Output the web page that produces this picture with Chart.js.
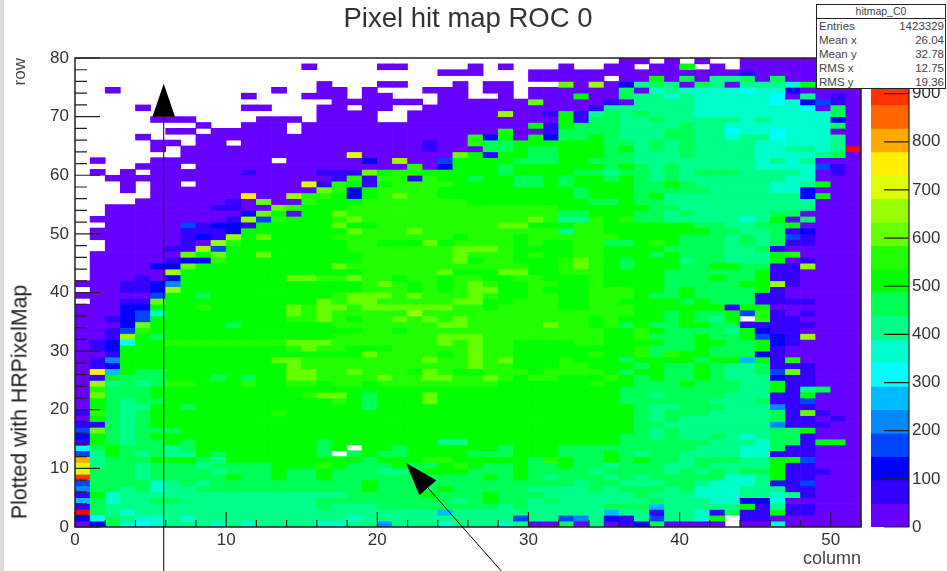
<!DOCTYPE html>
<html><head><meta charset="utf-8">
<style>
html,body{margin:0;padding:0;background:#fff;width:947px;height:571px;overflow:hidden;font-family:"Liberation Sans",Arial,sans-serif}
#strip{position:absolute;left:0;top:0;width:4px;height:571px;background:#dcdcdc}
#main{position:absolute;left:0;top:0}
#bar{position:absolute;left:860px;top:0}
#stats{position:absolute;left:816px;top:4px;width:130px;height:85px;background:#fff;border:1px solid #222;box-sizing:border-box;color:#444;font-size:11.5px;line-height:14px}
#stats .h{height:13px;line-height:13px;text-align:center;border-bottom:1px solid #222;font-size:10.5px}
#stats .r{display:flex;justify-content:space-between;padding:0 1px 0 2px}
#note{position:absolute;left:20px;top:402px;transform:translate(-50%,-50%) rotate(-90deg);white-space:nowrap;font-size:21.3px;color:#222}
</style>
<script src="https://cdn.jsdelivr.net/npm/chart.js@4"></script>
</head><body>
<div id="strip"></div>
<canvas id="main" width="947" height="571"></canvas>
<canvas id="bar" width="87" height="571"></canvas>
<div id="note">Plotted with HRPixelMap</div>
<div id="stats"><div class="h">hitmap_C0</div>
<div class="r"><span>Entries</span><span>1423329</span></div>
<div class="r"><span>Mean x</span><span>26.04</span></div>
<div class="r"><span>Mean y</span><span>32.78</span></div>
<div class="r"><span>RMS x</span><span>12.75</span></div>
<div class="r"><span>RMS y</span><span>19.36</span></div></div>
<script>
const row79=[0,0,0,0,0,0,0,0,0,0,0,0,0,0,0,0,0,0,0,0,0,0,0,0,0,0,0,0,0,0,0,0,0,0,0,0,24,24,0,24,0,24,0,0,24,24,24,24,24,24,24,24];
const row78=[0,0,0,0,0,0,0,0,0,0,0,0,0,0,0,24,0,0,0,0,24,24,0,0,0,0,24,0,24,0,0,0,24,0,0,24,24,0,24,24,511,0,24,0,24,24,24,24,24,24,24,24];
const row77=[0,0,0,0,0,0,0,0,0,0,0,0,0,0,0,0,0,0,0,0,0,0,0,0,24,24,24,0,0,0,24,24,24,24,24,24,24,24,24,24,24,24,24,24,73,24,24,24,24,24,24,24];
const row76=[0,0,0,0,0,0,0,0,0,0,0,0,0,0,0,0,0,0,0,0,0,0,0,0,0,0,0,0,0,0,24,24,24,24,24,0,24,24,511,24,463,24,414,414,463,24,463,24,24,24,24,24];
const row75=[0,0,0,0,0,0,0,0,0,0,0,0,0,0,0,0,24,0,0,0,24,24,0,0,0,24,0,24,24,0,0,0,609,24,657,24,122,414,463,414,24,463,414,24,414,414,414,365,511,24,24,24];
const row74=[0,0,24,0,0,0,0,0,0,0,0,0,0,24,0,0,24,24,0,24,0,0,0,24,24,24,0,24,24,0,24,24,24,24,24,24,463,24,365,414,365,365,365,365,316,365,365,122,24,24,24,24];
const row73=[0,0,0,0,0,0,0,0,0,0,0,24,0,0,0,24,24,24,0,24,24,0,0,0,24,24,0,0,24,0,24,24,24,511,24,24,463,414,414,365,414,365,365,365,365,365,316,24,414,24,73,24];
const row72=[0,0,0,0,0,0,0,0,0,0,0,0,0,0,0,0,0,24,24,24,24,24,24,0,24,24,24,24,24,24,609,24,24,24,24,73,24,414,414,414,414,365,365,365,365,365,316,365,122,170,73,24];
const row71=[0,0,0,0,24,0,0,0,0,0,0,24,24,0,0,0,24,24,0,24,24,0,0,24,24,24,24,24,24,24,24,24,24,24,73,414,414,414,414,414,414,365,365,365,365,365,365,365,316,24,463,24];
const row70=[0,0,0,0,0,0,0,0,0,0,0,0,0,0,0,0,24,24,24,24,0,0,24,24,24,24,24,24,657,24,24,73,511,73,414,463,414,463,414,414,414,365,365,365,365,365,365,365,365,365,463,24];
const row69=[0,0,0,0,0,24,24,24,0,0,0,0,24,24,24,0,24,24,24,24,0,0,24,24,24,24,24,24,24,24,24,24,511,73,463,463,414,414,463,414,414,414,414,414,365,414,365,365,365,365,122,24];
const row68=[0,0,0,0,0,0,0,0,24,0,0,24,24,24,0,24,24,24,24,24,24,24,24,24,24,24,24,24,24,24,511,73,511,463,463,463,414,414,414,414,463,414,414,365,365,365,365,365,365,365,463,24];
const row67=[0,0,0,0,0,0,24,24,0,24,24,24,24,24,0,24,24,24,24,24,24,24,24,24,24,24,24,24,560,24,24,73,463,463,463,463,414,414,414,463,463,414,414,316,365,365,316,365,365,365,24,24];
const row66=[0,0,0,0,24,0,0,0,24,24,24,24,24,24,24,24,24,24,24,24,24,24,24,24,24,24,560,122,511,24,511,122,463,463,511,463,414,414,414,463,463,414,414,365,414,414,316,365,365,365,414,24];
const row65=[0,0,0,0,0,24,24,0,24,24,0,24,24,24,24,24,24,24,24,24,24,24,24,73,24,24,560,463,463,511,511,511,511,511,511,463,463,414,463,414,463,414,414,414,414,365,365,365,365,365,414,24];
const row64=[0,0,0,0,0,24,0,24,24,24,24,24,24,24,24,24,24,24,24,24,24,24,24,73,24,24,24,463,463,511,463,463,511,511,511,463,511,414,463,414,463,414,414,414,414,365,365,414,414,365,414,950];
const row63=[0,0,0,0,0,0,0,24,24,24,24,24,24,24,24,24,24,24,706,24,24,24,24,24,24,609,511,73,511,511,463,463,511,511,511,463,463,414,414,414,463,414,414,414,414,365,365,365,365,414,463,24];
const row62=[0,24,0,0,0,24,24,24,24,24,24,24,24,0,24,24,24,24,24,122,24,657,24,24,170,511,511,511,511,463,463,463,511,511,463,463,463,414,414,414,414,414,414,414,414,365,414,365,414,24,24,24];
const row61=[0,0,0,0,24,24,24,0,24,24,24,24,24,24,24,24,24,24,24,24,24,24,560,24,122,511,511,511,463,511,511,511,511,511,511,463,511,463,414,463,414,414,414,414,414,365,365,365,365,170,73,24];
const row60=[0,24,0,24,0,24,24,24,24,24,24,73,24,24,24,24,73,73,73,609,511,560,560,511,511,511,511,511,463,511,511,511,511,463,463,414,463,463,414,463,414,463,463,463,414,414,414,414,365,24,73,24];
const row59=[0,0,24,24,24,24,24,24,24,24,24,24,24,24,24,24,24,73,560,73,560,560,73,560,511,511,463,511,511,463,463,511,463,511,511,463,511,463,414,463,414,414,414,414,414,414,414,365,365,24,24,24];
const row58=[0,0,0,24,0,24,24,0,24,24,24,24,24,24,24,706,73,560,511,73,511,560,560,560,560,511,511,511,511,463,463,511,463,511,511,511,511,463,463,511,463,414,414,414,414,414,365,365,414,511,24,24];
const row57=[0,0,0,24,0,24,24,24,24,24,24,24,24,24,24,24,609,560,122,511,560,560,560,560,511,511,511,511,511,511,511,511,511,463,511,511,511,463,463,463,463,463,414,414,414,414,365,365,122,24,24,24];
const row56=[0,0,0,0,0,24,24,24,24,24,24,755,24,24,657,560,560,511,122,511,560,609,560,560,511,511,511,511,511,511,511,511,511,463,511,511,511,463,511,414,414,414,414,414,414,414,414,414,122,511,24,24];
const row55=[0,0,0,0,24,24,24,24,24,24,73,24,609,24,24,560,511,511,511,560,560,560,560,560,560,560,511,511,511,511,511,511,511,511,463,463,511,463,463,414,414,414,414,414,414,414,414,414,414,24,24,24];
const row54=[0,0,24,24,24,24,24,24,24,73,73,24,24,609,560,511,511,511,560,560,560,560,560,560,560,560,560,560,560,560,560,560,511,511,511,511,511,511,463,463,414,414,414,414,414,414,414,414,414,24,24,24];
const row53=[0,0,24,24,24,24,24,24,24,24,24,122,609,511,24,511,511,609,560,560,560,560,560,560,560,560,560,560,560,560,560,560,463,463,511,511,511,463,463,414,463,414,414,414,414,414,463,463,24,24,24,24];
const row52=[0,24,24,24,24,24,24,24,24,24,73,657,170,560,511,511,511,560,609,560,560,560,560,560,560,560,560,560,560,560,609,560,414,414,560,511,560,463,463,414,414,414,414,414,365,414,511,24,463,24,24,24];
const row51=[0,0,24,24,24,24,24,170,73,122,122,73,511,511,511,511,511,609,511,511,560,560,560,560,560,560,560,560,609,609,511,511,511,560,560,511,511,511,511,511,511,463,463,414,414,463,463,511,24,24,24,24];
const row50=[0,24,24,24,24,24,24,73,73,73,122,511,511,511,511,511,511,511,609,560,560,560,609,560,560,560,560,560,560,560,560,560,414,560,560,511,511,511,511,511,511,511,463,463,414,414,463,73,122,24,24,24];
const row49=[0,24,24,24,24,24,24,73,122,73,657,511,609,511,511,511,511,560,560,560,560,560,560,560,560,511,560,560,560,511,560,560,560,560,560,560,511,511,511,511,463,463,463,414,463,414,463,170,73,24,24,24];
const row48=[0,0,24,24,24,24,24,73,24,657,560,511,511,511,511,511,511,511,560,560,511,511,511,609,511,560,560,560,560,511,560,511,511,560,560,463,463,511,560,511,463,463,463,414,463,414,463,73,73,24,24,24];
const row47=[0,0,24,24,24,24,73,73,657,170,511,511,511,511,511,511,511,511,560,560,560,560,560,560,560,609,609,609,560,511,511,511,511,560,560,511,511,511,511,463,463,463,463,414,414,463,73,24,24,24,24,24];
const row46=[0,24,24,24,24,24,24,609,511,609,511,511,609,511,511,511,511,511,511,560,560,560,560,560,560,609,560,560,560,511,560,511,511,560,560,511,511,511,463,511,463,463,463,414,414,414,511,560,24,24,24,24];
const row45=[0,24,24,24,24,24,73,122,122,560,511,511,511,511,511,511,511,511,511,560,560,560,560,560,560,609,511,560,560,511,511,511,560,609,560,511,463,511,511,511,414,463,463,414,414,414,511,24,73,24,24,24];
const row44=[0,24,24,24,24,122,122,609,511,511,511,511,511,511,511,511,511,609,560,560,560,560,560,560,560,560,560,560,560,560,511,511,560,609,560,511,463,511,511,511,463,463,511,511,463,463,73,73,657,24,24,24];
const row43=[0,24,24,24,24,24,657,511,511,511,511,511,511,511,511,511,511,511,511,560,560,560,560,560,609,511,511,511,609,609,511,511,560,560,560,511,511,511,511,463,463,463,463,463,463,511,73,73,24,24,24,24];
const row42=[0,24,24,24,73,24,122,511,511,511,511,511,511,511,609,609,560,560,609,560,560,511,560,560,511,560,560,511,511,560,560,511,511,511,560,511,511,511,511,463,463,463,511,463,463,511,73,73,24,24,24,24];
const row41=[24,24,24,73,73,122,219,511,511,511,511,511,511,511,511,511,511,511,511,560,609,560,511,560,511,560,609,560,511,511,560,560,511,511,560,511,511,511,511,463,463,463,463,463,511,511,657,73,24,24,24,24];
const row40=[0,24,24,73,73,122,657,511,511,511,511,511,511,511,511,511,511,511,511,560,560,560,511,560,511,560,609,609,511,511,560,511,511,511,560,560,560,511,511,463,511,463,463,463,463,511,73,24,24,24,24,24];
const row39=[24,24,24,24,24,170,511,511,463,511,511,511,511,511,511,511,511,560,609,609,609,560,609,560,560,560,609,560,511,511,560,560,511,511,560,560,560,511,463,463,511,463,463,463,463,73,73,24,24,24,24,24];
const row38=[0,24,24,73,73,609,511,511,511,511,511,511,511,511,511,511,609,560,609,609,560,560,560,560,560,609,609,511,511,560,560,560,511,511,560,560,511,511,511,511,463,511,463,463,463,73,73,73,73,24,24,24];
const row37=[24,24,24,122,122,511,511,511,560,511,511,511,511,511,609,560,609,609,560,609,609,609,609,609,609,560,560,511,560,560,560,560,511,511,560,560,560,511,511,511,511,511,511,73,511,511,24,24,24,24,24,24];
const row36=[24,24,24,122,170,365,511,511,511,511,511,511,511,511,609,560,609,560,560,560,560,560,657,560,560,560,560,560,560,560,560,560,560,560,560,560,560,511,511,463,511,463,463,511,170,560,73,24,73,24,24,24];
const row35=[24,24,73,122,170,511,511,511,511,511,511,511,511,511,560,560,609,560,511,560,560,609,560,609,560,609,560,560,560,560,560,560,560,560,511,560,511,511,511,463,511,463,414,511,0,560,73,73,24,24,24,24];
const row34=[24,24,24,122,609,511,511,511,511,511,463,511,511,511,511,511,511,560,560,560,560,560,560,560,609,609,560,560,560,560,560,609,560,560,511,560,463,511,463,463,511,511,463,463,73,73,73,73,73,24,24,24];
const row33=[24,24,73,170,560,511,511,511,511,511,511,511,511,511,511,511,511,511,511,560,560,511,560,560,560,560,560,560,560,560,560,560,560,560,560,511,511,560,511,463,463,463,463,414,511,122,73,73,24,24,24,24];
const row32=[24,24,73,657,511,463,511,511,511,511,511,511,511,511,511,511,511,560,560,560,560,560,560,560,609,609,609,560,560,560,560,560,560,560,560,511,511,560,463,463,463,511,463,463,511,170,122,73,657,24,24,24];
const row31=[24,73,122,316,511,511,560,560,560,560,560,560,560,560,609,609,609,560,560,560,560,560,560,560,609,560,609,560,560,511,511,511,511,560,560,511,511,511,511,463,463,511,511,463,463,511,122,73,24,24,24,24];
const row30=[24,73,122,511,511,511,511,511,511,511,511,511,511,511,560,609,560,560,511,511,511,560,560,560,560,560,609,560,560,511,511,511,511,511,511,511,511,560,463,463,463,511,463,463,463,511,73,24,24,24,24,24];
const row29=[24,24,73,511,511,511,511,511,511,511,511,511,511,511,511,511,511,511,511,609,560,560,560,560,511,560,609,560,560,511,511,511,511,511,560,511,511,560,463,560,511,511,463,463,463,122,73,24,24,24,24,24];
const row28=[24,73,219,511,511,511,511,511,511,511,511,511,511,609,609,560,560,560,560,560,560,560,560,609,560,560,609,560,609,511,511,511,560,511,511,511,463,511,511,511,511,463,511,511,268,511,73,560,24,24,24,24];
const row27=[24,73,122,511,511,511,511,511,511,511,511,511,511,511,609,560,560,560,560,560,560,560,560,560,560,560,609,560,560,511,511,511,560,560,511,511,511,463,511,463,463,511,463,414,414,463,73,73,73,24,24,24];
const row26=[24,755,268,511,463,463,511,511,511,511,511,511,511,511,609,609,560,560,609,560,560,560,511,609,560,511,511,560,560,560,511,560,560,560,560,511,463,511,511,463,463,511,463,414,414,463,170,609,73,24,24,24];
const row25=[24,73,511,463,463,463,511,511,511,463,511,463,511,511,609,609,560,560,560,560,609,560,560,609,609,560,560,609,560,511,560,560,511,511,511,560,511,463,511,463,463,511,463,414,414,414,122,73,73,24,24,24];
const row24=[24,657,414,463,414,463,560,560,511,511,511,560,511,511,560,560,511,560,560,511,560,560,560,560,560,560,560,560,511,511,511,511,511,511,560,511,511,463,463,463,511,463,463,463,414,414,511,73,73,24,24,24];
const row23=[24,560,463,463,463,511,511,511,511,511,511,511,511,511,511,511,511,511,511,511,511,511,511,511,511,511,511,511,511,511,511,511,511,511,511,511,463,463,463,463,463,463,463,463,414,414,511,73,414,463,24,24];
const row22=[24,609,463,463,463,511,511,511,511,511,511,511,511,511,511,560,609,609,511,463,511,511,511,609,511,511,511,511,511,511,511,511,511,511,511,511,463,463,414,463,463,463,463,414,414,414,73,73,511,24,24,24];
const row21=[24,511,463,414,463,463,511,511,511,511,511,511,511,511,511,511,511,560,511,463,511,511,511,609,511,511,511,511,511,511,511,511,511,511,511,511,463,463,463,463,463,463,414,414,414,463,73,73,170,24,24,24];
const row20=[24,511,463,414,414,511,511,463,511,511,511,511,511,511,511,511,511,511,511,463,511,511,511,511,511,511,511,511,511,511,511,511,511,511,511,511,511,463,414,414,463,463,463,414,414,414,219,73,73,24,24,24];
const row19=[73,560,463,414,463,511,511,511,511,511,511,511,511,560,511,511,511,511,511,511,511,511,511,511,511,511,511,511,511,511,511,511,511,511,511,511,511,463,414,463,463,463,414,414,414,414,463,73,609,73,24,24];
const row18=[24,511,463,414,463,511,511,511,511,511,511,511,511,511,511,511,511,511,511,511,511,511,511,511,511,511,511,511,511,511,511,511,511,511,511,511,511,463,414,463,414,414,414,414,414,414,463,73,73,24,73,24];
const row17=[73,73,463,414,463,511,511,511,511,511,511,511,511,511,511,511,511,511,511,511,511,511,511,511,511,511,511,511,511,511,511,511,511,511,511,511,511,463,463,414,414,414,414,414,414,414,219,73,73,73,24,24];
const row16=[170,609,463,414,463,463,463,511,511,511,511,511,511,511,511,511,511,511,511,511,511,511,511,511,511,511,511,511,511,511,511,511,511,511,511,511,511,463,414,463,414,414,414,414,414,414,463,463,511,24,24,24];
const row15=[122,511,463,414,463,511,511,511,511,511,511,511,511,511,511,511,511,511,511,511,511,511,511,511,511,511,511,511,511,511,511,511,511,511,511,511,463,463,414,463,414,414,463,414,365,414,463,463,73,24,24,24];
const row14=[73,511,463,414,463,463,511,463,511,511,511,511,511,511,511,511,463,511,511,511,511,511,511,511,414,414,511,511,511,511,511,511,511,511,511,511,463,463,463,463,463,463,414,414,414,365,463,463,73,511,511,24];
const row13=[316,463,511,463,463,463,414,463,511,511,511,511,511,511,511,511,463,511,0,511,511,463,511,511,511,511,511,511,463,511,511,511,463,463,463,463,463,463,463,463,463,414,414,414,365,365,463,73,73,24,24,24];
const row12=[170,414,511,463,414,463,414,414,511,463,511,511,511,511,511,511,463,0,463,511,463,463,511,511,511,511,463,463,463,511,511,511,463,463,463,511,463,414,463,463,414,414,414,414,365,365,73,73,73,24,24,24];
const row11=[803,414,463,463,463,511,511,511,463,414,511,511,511,511,511,511,511,511,511,463,511,511,511,560,560,511,511,511,511,511,463,560,511,463,463,511,463,511,463,463,414,463,463,463,414,414,511,511,170,24,24,24];
const row10=[706,414,463,463,414,463,463,463,414,463,463,463,463,511,511,511,560,511,463,463,463,511,463,463,511,560,511,463,463,511,463,463,511,463,463,414,463,463,463,414,414,463,414,414,414,414,511,73,73,24,24,24];
const row9=[706,463,463,463,414,463,463,463,463,414,463,463,463,511,463,463,511,463,463,463,414,414,463,511,511,511,463,463,463,511,463,463,463,463,414,463,463,463,463,414,463,414,463,414,463,463,511,73,73,73,24,24];
const row8=[901,463,463,463,414,463,463,463,463,463,511,463,463,511,463,463,511,463,463,463,463,463,463,463,463,463,463,511,463,511,463,414,463,463,463,414,463,414,463,463,463,463,463,365,365,414,511,73,73,24,24,24];
const row7=[170,463,463,463,463,365,414,463,414,463,463,463,463,463,463,463,463,463,463,511,463,463,463,463,463,463,463,463,463,463,463,463,463,414,463,463,414,414,414,463,463,414,365,365,365,414,73,73,170,24,24,24];
const row6=[219,463,463,414,463,365,414,414,463,463,463,463,463,463,463,463,463,463,463,511,463,463,463,463,511,463,463,463,463,463,414,414,414,414,463,414,463,463,463,414,463,365,365,365,414,414,414,73,73,24,24,24];
const row5=[73,511,365,414,414,414,414,414,414,414,414,414,414,414,414,414,414,414,463,463,463,463,463,511,463,463,463,511,463,463,463,414,414,414,414,414,414,463,414,414,414,365,365,365,414,414,365,414,73,24,24,24];
const row4=[268,463,365,414,414,463,463,414,414,414,414,414,414,414,414,414,463,463,463,463,463,463,463,463,463,414,463,511,463,463,414,463,414,414,414,414,414,414,463,414,414,414,365,365,122,122,365,24,24,24,24,24];
const row3=[73,463,414,414,414,414,414,414,414,414,414,414,414,414,414,414,463,414,414,414,463,463,463,463,463,463,463,463,414,463,414,414,414,414,414,463,463,463,268,414,414,414,414,414,511,73,414,73,73,24,24,24];
const row2=[950,463,414,365,414,414,414,414,414,414,414,414,414,414,414,414,414,414,414,414,414,414,414,414,268,414,414,414,414,414,414,414,414,414,414,268,414,414,73,414,414,365,73,463,73,73,511,73,73,24,24,24];
const row1=[122,316,463,414,365,365,414,365,414,414,414,414,414,414,414,414,414,414,365,414,414,414,414,414,414,414,414,414,414,170,414,414,170,219,414,122,73,414,170,414,414,365,511,0,73,73,24,24,24,24,24,24];
const row0=[24,122,463,365,316,365,414,414,414,365,414,365,414,414,414,414,365,365,414,414,219,414,414,414,365,414,414,414,365,414,24,24,463,24,414,24,73,122,463,24,24,24,24,0,24,24,365,24,24,24,24,24];

const rowsFromBottom=[row0,row1,row2,row3,row4,row5,row6,row7,row8,row9,row10,row11,row12,row13,row14,row15,row16,row17,row18,row19,row20,row21,row22,row23,row24,row25,row26,row27,row28,row29,row30,row31,row32,row33,row34,row35,row36,row37,row38,row39,row40,row41,row42,row43,row44,row45,row46,row47,row48,row49,row50,row51,row52,row53,row54,row55,row56,row57,row58,row59,row60,row61,row62,row63,row64,row65,row66,row67,row68,row69,row70,row71,row72,row73,row74,row75,row76,row77,row78,row79];

const palette=["#6600ff","#3300ff","#0000ff","#0044ff","#0088ff","#00bbff","#00ffff","#00ffcc","#00ff88","#00ff55","#00ff00","#22ff00","#66ff00","#99ff00","#ddff00","#ffee00","#ffaa00","#ff6600","#ff3300","#ff0000"];
const zMax=974;
const colorTicks=[0,100,200,300,400,500,600,700,800,900];
const xMajor=[0,10,20,30,40,50];
const yMajor=[0,10,20,30,40,50,60,70,80];
const arrowTip1=[5.87,75.6], arrowTail1=[5.87,-7.6];
const arrowTip2=[21.9,10.9], arrowTail2=[28.2,-7.5];

const binWidth=zMax/palette.length;
const binOf=v=>Math.min(palette.length-1,Math.floor(v/binWidth));
const cells=[],cellColors=[];
rowsFromBottom.forEach((row,r)=>row.forEach((v,c)=>{
  if(v>0){cells.push({x:c+0.5,y:[r,r+1]});cellColors.push(palette[binOf(v)]);}
}));
const INK="#222";
const font=s=>({family:"'Liberation Sans',Arial,sans-serif",size:s});

const decor={id:"decor",afterDatasetsDraw(chart){
  const {ctx,chartArea:a,scales:{x,y}}=chart;
  ctx.save();
  ctx.strokeStyle=INK;ctx.lineWidth=1.2;ctx.beginPath();
  for(let v=0;v<=52;v+=2){const p=x.getPixelForValue(v),l=v%10===0?15:7;ctx.moveTo(p,a.bottom);ctx.lineTo(p,a.bottom-l);}
  for(let v=0;v<=80;v+=2){const p=y.getPixelForValue(v),l=v%10===0?25:12;ctx.moveTo(a.left,p);ctx.lineTo(a.left+l,p);}
  ctx.stroke();
  ctx.lineWidth=1.5;ctx.strokeRect(a.left,a.top,a.right-a.left,a.bottom-a.top);
  const arrow=(tail,tip)=>{
    const x0=x.getPixelForValue(tail[0]),y0=y.getPixelForValue(tail[1]);
    const x1=x.getPixelForValue(tip[0]),y1=y.getPixelForValue(tip[1]);
    const d=Math.hypot(x1-x0,y1-y0),ux=(x1-x0)/d,uy=(y1-y0)/d,L=33,W=11.3;
    ctx.strokeStyle="#000";ctx.lineWidth=1;ctx.beginPath();ctx.moveTo(x0,y0);ctx.lineTo(x1-ux*L,y1-uy*L);ctx.stroke();
    ctx.fillStyle="#000";ctx.beginPath();ctx.moveTo(x1,y1);
    ctx.lineTo(x1-ux*L-uy*W,y1-uy*L+ux*W);ctx.lineTo(x1-ux*L+uy*W,y1-uy*L-ux*W);ctx.closePath();ctx.fill();
  };
  arrow(arrowTail1,arrowTip1);arrow(arrowTail2,arrowTip2);
  ctx.restore();
}};

new Chart(document.getElementById("main"),{
  type:"bar",
  data:{datasets:[{data:cells,backgroundColor:cellColors,borderWidth:0,barPercentage:1,categoryPercentage:1}]},
  plugins:[decor],
  options:{responsive:false,animation:false,events:[],
    layout:{padding:{right:86,left:0,top:0,bottom:0}},
    plugins:{legend:{display:false},tooltip:{enabled:false},
      title:{display:true,text:"Pixel hit map ROC 0",fullSize:false,color:"#333",font:{...font(27.5),weight:"normal"},padding:{top:3,bottom:22}}},
    scales:{
      x:{type:"linear",min:0,max:52,offset:false,
        afterFit(s){s.height=44;},
        grid:{display:false,offset:false,drawTicks:false},border:{display:false},
        afterBuildTicks(s){s.ticks=xMajor.map(value=>({value}));},
        ticks:{color:"#333",font:font(17),padding:3,maxRotation:0,autoSkip:false},
        title:{display:true,text:"column",align:"end",color:"#444",font:font(18),padding:{top:0,bottom:1}}},
      y:{type:"linear",min:0,max:80,
        afterFit(s){s.width=75;},
        grid:{display:false,drawTicks:false},border:{display:false},
        afterBuildTicks(s){s.ticks=yMajor.map(value=>({value}));},
        ticks:{color:"#333",font:font(17),padding:6,autoSkip:false},
        title:{display:true,text:"row",align:"end",color:"#444",font:font(17),padding:{top:10,bottom:0}}}
    }}
});

const binEdges=palette.map((_,i)=>({x:"z",y:[i*binWidth,(i+1)*binWidth]}));
const barTicks={id:"barTicks",afterDatasetsDraw(chart){
  const {ctx,chartArea:a,scales:{y}}=chart;
  ctx.save();ctx.strokeStyle=INK;ctx.lineWidth=1.2;ctx.beginPath();
  colorTicks.forEach(v=>{const p=y.getPixelForValue(v);ctx.moveTo(a.right,p);ctx.lineTo(a.right-25,p);});
  ctx.moveTo(a.right,a.top);ctx.lineTo(a.right,a.bottom);ctx.stroke();ctx.restore();
}};
new Chart(document.getElementById("bar"),{
  type:"bar",
  data:{labels:["z"],datasets:[{data:binEdges,backgroundColor:palette,borderWidth:0,barThickness:38}]},
  plugins:[barTicks],
  options:{responsive:false,animation:false,events:[],
    layout:{padding:{left:11,top:58,bottom:44,right:0}},
    plugins:{legend:{display:false},tooltip:{enabled:false}},
    scales:{
      x:{display:false},
      y:{type:"linear",position:"right",min:0,max:zMax,
        afterFit(s){s.width=38;},
        grid:{display:false,drawTicks:false},border:{display:false},
        afterBuildTicks(s){s.ticks=colorTicks.map(value=>({value}));},
        ticks:{color:"#333",font:font(17),padding:3,autoSkip:false}}
    }}
});
</script>
</body></html>
